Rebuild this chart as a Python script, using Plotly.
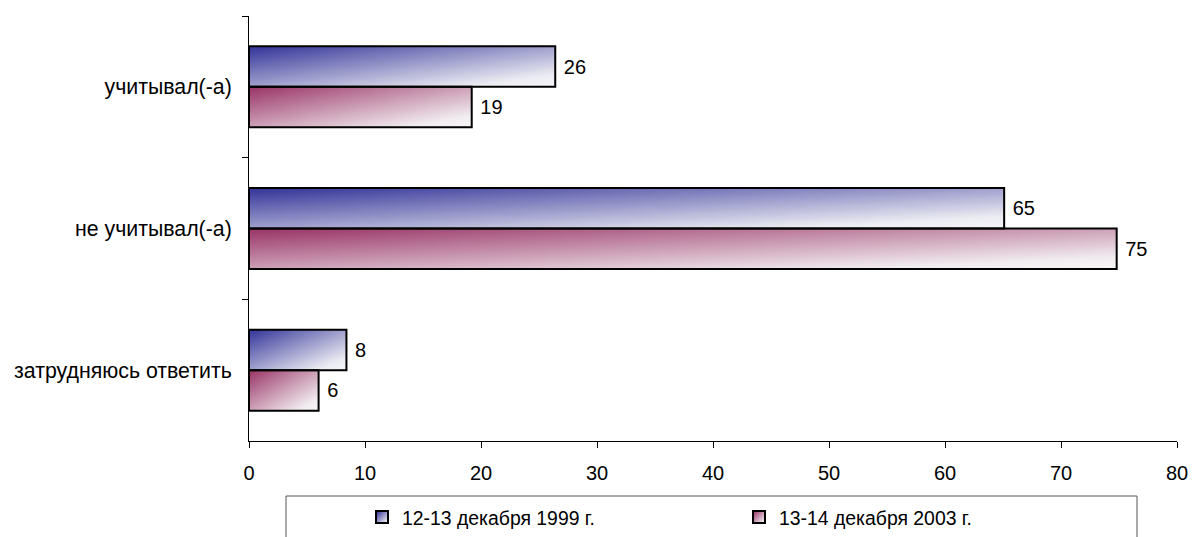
import base64
import plotly.graph_objects as go

# ---- data ----
categories = ["учитывал(-а)", "не учитывал(-а)", "затрудняюсь ответить"]
series_names = ["12-13 декабря 1999 г.", "13-14 декабря 2003 г."]
values_1999 = [26.4, 65.1, 8.4]
values_2003 = [19.2, 74.8, 6.0]
x_ticks = [0, 10, 20, 30, 40, 50, 60, 70, 80]

# ---- style ----
FONT = "Liberation Sans, Arial, sans-serif"
FS = 20
FS_Y = 21.3
FS_LEG = 19.4
dark_colors = ["#333399", "#993366"]
tint_colors = ["rgba(51,51,153,0.05)", "rgba(153,51,102,0.05)"]
bar_w = 1 / 3.5          # Excel gap width 150 %
offsets = [-bar_w, 0.0]  # first series above, second below the category centre


def gradient_uri(color):
    svg = (
        "<svg xmlns='http://www.w3.org/2000/svg' width='100' height='100' "
        "viewBox='0 0 100 100' preserveAspectRatio='none'>"
        "<defs><linearGradient id='g' x1='0' y1='0' x2='1' y2='1'>"
        f"<stop offset='0' stop-color='{color}'/>"
        "<stop offset='0.85' stop-color='#f6f6f8'/>"
        "<stop offset='1' stop-color='#ffffff'/>"
        "</linearGradient></defs>"
        "<rect x='0' y='0' width='100' height='100' fill='url(#g)'/></svg>"
    )
    return "data:image/svg+xml;base64," + base64.b64encode(svg.encode()).decode()


W, H = 1192, 537
L, R, T, B = 249, 15, 16, 96
plot_h = H - T - B
plot_w = W - L - R


def px_to_paper_x(px):
    return (px - L) / plot_w


def px_to_paper_y(py):
    return (H - B - py) / plot_h


fig = go.Figure()
series_values = [values_1999, values_2003]
for name, vals, off, col, tint in zip(series_names, series_values, offsets,
                                      dark_colors, tint_colors):
    fig.add_trace(go.Bar(
        y=categories, x=vals, orientation="h", name=name,
        width=bar_w, offset=off,
        marker=dict(color=tint, line=dict(color="black", width=2)),
        texttemplate="\u00a0%{x:.0f}", textposition="outside",
        textfont=dict(family=FONT, size=FS, color="black"),
        cliponaxis=False,
    ))
    src = gradient_uri(col)
    for i, v in enumerate(vals):
        fig.add_layout_image(
            source=src, xref="x", yref="y", x=0, y=i + off,
            sizex=v, sizey=bar_w, xanchor="left", yanchor="top",
            sizing="stretch", layer="below",
        )

# legend layout (pixels)
LEG_X0 = 362
LEG_STEP = 377
LEG_TOP = 498
SW_CY = 518

# gradient fill under the (transparent) legend swatches
for k, col in enumerate(dark_colors):
    cx = LEG_X0 + k * LEG_STEP + 20
    fig.add_layout_image(
        source=gradient_uri(col), xref="paper", yref="paper",
        x=px_to_paper_x(cx - 6), y=px_to_paper_y(SW_CY - 6),
        sizex=12 / plot_w, sizey=12 / plot_h,
        xanchor="left", yanchor="top", sizing="stretch", layer="below",
    )

fig.add_shape(
    type="rect", xref="paper", yref="paper",
    x0=px_to_paper_x(286), x1=px_to_paper_x(1137),
    y0=px_to_paper_y(496), y1=px_to_paper_y(560),
    line=dict(color="#555555", width=1), fillcolor="rgba(0,0,0,0)",
)

fig.update_layout(
    width=W, height=H,
    margin=dict(l=L, r=R, t=T, b=B, autoexpand=False),
    paper_bgcolor="white", plot_bgcolor="white",
    barmode="overlay",
    font=dict(family=FONT, size=FS, color="black"),
    showlegend=True,
    legend=dict(
        orientation="h", xref="container", yref="container",
        x=LEG_X0 / W, y=1 - LEG_TOP / H, xanchor="left", yanchor="top",
        entrywidth=LEG_STEP - 45, entrywidthmode="pixels",
        bgcolor="rgba(0,0,0,0)", borderwidth=0,
        font=dict(family=FONT, size=FS_LEG, color="black"),
        traceorder="normal",
    ),
    xaxis=dict(
        range=[0, 80], tickmode="array", tickvals=x_ticks,
        showgrid=False, zeroline=False,
        showline=True, linecolor="black", linewidth=1,
        ticks="outside", ticklen=6, tickcolor="black", tickwidth=1,
        ticklabelstandoff=8,
        tickfont=dict(family=FONT, size=FS, color="black"),
    ),
    yaxis=dict(
        type="category", categoryorder="array", categoryarray=categories,
        autorange="reversed",
        showgrid=False, zeroline=False,
        showline=True, linecolor="black", linewidth=1,
        ticks="outside", ticklen=6, tickcolor="black", tickwidth=1,
        tickson="boundaries", ticklabelstandoff=12,
        tickfont=dict(family=FONT, size=FS_Y, color="black"),
    ),
)

fig.write_html(
    "out.html",
    config={"displayModeBar": False},
    post_script="document.body.style.margin='0px';document.body.style.overflow='hidden';",
)
